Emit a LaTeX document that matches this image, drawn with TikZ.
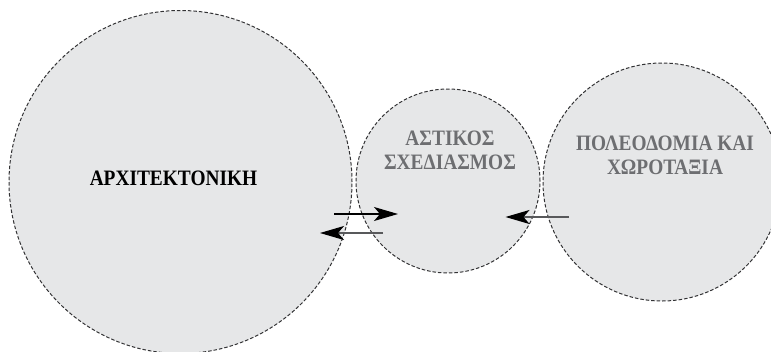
\documentclass[tikz,border=0pt]{standalone}
\usepackage{fontspec}
\setmainfont[FakeStretch=0.88]{Liberation Serif}
\usetikzlibrary{arrows.meta}
\definecolor{circfill}{HTML}{E6E7E8}
\definecolor{circline}{HTML}{333335}
\definecolor{txtgrey}{HTML}{6D6E71}
\definecolor{arrgrey}{HTML}{58595B}
\tikzset{
  zone/.style={circle, fill=circfill, draw=circline, line width=1pt,
    dash pattern=on 3.5pt off 2pt, inner sep=0pt},
  lbl/.style={font=\bfseries\fontsize{22}{24}\selectfont, align=center, inner sep=0pt},
  arr/.style={line width=1.3pt, -{Stealth[length=24pt,width=14pt,inset=6pt,color=black]}}
}
\begin{document}
\begin{tikzpicture}[x=1pt,y=-1pt]
\useasboundingbox (0,0) rectangle (771,351);
\clip (0,0) rectangle (771,351);
\node[zone, minimum size=343pt] (arch) at (180.5,182) {};
\node[zone, minimum size=184pt] (urban) at (448,181) {};
\node[zone, minimum size=238pt] (plan) at (662,182) {};
\node[lbl, text=black, anchor=base] (archt) at (173.5,185.5) {ΑΡΧΙΤΕΚΤΟΝΙΚΗ};
\node[lbl, text=txtgrey, anchor=base] (urbant) at (450,169) {ΑΣΤΙΚΟΣ\\ΣΧΕΔΙΑΣΜΟΣ};
\node[lbl, text=txtgrey, anchor=base] (plant) at (665,174) {ΠΟΛΕΟΔΟΜΙΑ ΚΑΙ\\ΧΩΡΟΤΑΞΙΑ};
\coordinate (a1s) at (334,214);
\coordinate (a1e) at (398,214);
\coordinate (a2s) at (383,233);
\coordinate (a2e) at (320,233);
\coordinate (a3s) at (569,217);
\coordinate (a3e) at (505.5,217);
\draw[arr, draw=black] (a1s) -- (a1e);
\draw[arr, draw=arrgrey] (a2s) -- (a2e);
\draw[arr, draw=arrgrey, line width=1.6pt] (a3s) -- (a3e);
\end{tikzpicture}
\end{document}
